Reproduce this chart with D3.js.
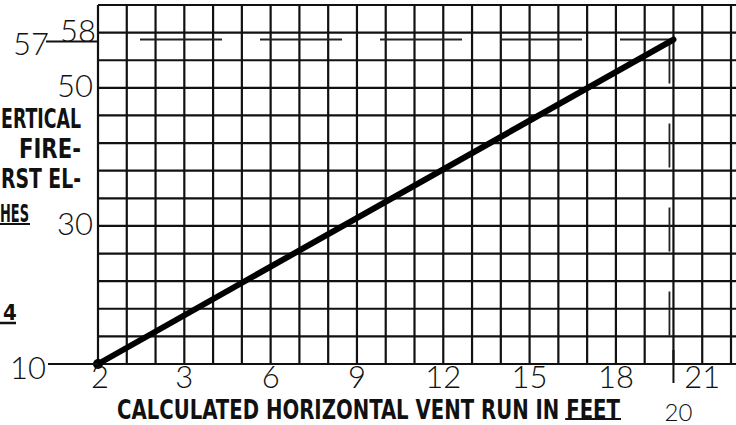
<!DOCTYPE html>
<html><head><meta charset="utf-8">
<script src="https://cdn.jsdelivr.net/npm/d3@7"></script>
<style>html,body{margin:0;padding:0;background:#fff;overflow:hidden}svg{display:block}</style>
</head><body>
<script>
// ---- data ----
const lineX = [2, 20];            // calculated horizontal vent run (ft)
const lineY = [10, 57];           // vertical height (in)
const xTickValues = [2, 3, 6, 9, 12, 15, 18, 21];
const xTickLabels = ["2", "3", "6", "9", "12", "15", "18", "21"];
const xMarkValue = 20, xMarkLabel = "20";
const yTickValues = [10, 30, 50, 58];
const yTickLabels = ["10", "30", "50", "58"];
const yMarkValue = 57, yMarkLabel = "57";
const xTitle = "CALCULATED HORIZONTAL VENT RUN IN ";
const xTitleUnderlined = "FEET";
const sideLines = ["ERTICAL", "FIRE-", "RST EL-"];
const sideUnderlined = ["HES", "4"];

// ---- layout ----
const W = 736, H = 425;
const pL = 98, pR = 731, pT = 5, pB = 364;

const svg = d3.select("body").append("svg").attr("width", W).attr("height", H);

const cell = (pR - pL) / 22;
const x = d3.scaleLinear().domain([2, 3, 22]).range([pL, pL + 3 * cell, pR]);
const y = d3.scaleLinear().domain([10, 62]).range([pB, pT]);
const gx = d3.scaleLinear().domain([0, 22]).range([pL, pR]);

const grid = svg.append("g").attr("stroke", "#111").attr("stroke-width", 2.2);
grid.selectAll("line.v").data(d3.range(0, 23)).join("line").attr("class", "v")
  .attr("x1", d => gx(d)).attr("x2", d => gx(d)).attr("y1", pT).attr("y2", pB);
grid.selectAll("line.h").data(d3.range(10, 63, 4)).join("line").attr("class", "h")
  .attr("x1", pL).attr("x2", W).attr("y1", d => y(d)).attr("y2", d => y(d));

// dashed guides to end point
svg.append("line").attr("x1", 140).attr("x2", x(lineX[1]))
  .attr("y1", y(lineY[1])).attr("y2", y(lineY[1]))
  .attr("stroke", "#222").attr("stroke-width", 1.8).attr("stroke-dasharray", "82,38");
svg.append("line").attr("x1", x(lineX[1]) - 4).attr("x2", x(lineX[1]) - 4)
  .attr("y1", y(lineY[1])).attr("y2", pB)
  .attr("stroke", "#222").attr("stroke-width", 1.8).attr("stroke-dasharray", "44,40");

// main line
const pts = lineX.map((v, i) => [x(v), y(lineY[i])]);
svg.append("path").attr("d", d3.line()(pts)).attr("fill", "none")
  .attr("stroke", "#000").attr("stroke-width", 6).attr("stroke-linecap", "round");
svg.append("circle").attr("cx", pts[0][0]).attr("cy", pts[0][1]).attr("r", 5).attr("fill", "#000");

const numFont = "Lato, 'DejaVu Sans', sans-serif";
const boldFont = "'Liberation Sans Narrow', 'DejaVu Sans Condensed', sans-serif";
const NF = 31;

// x tick labels
svg.selectAll("text.xt").data(xTickValues).join("text").attr("class", "xt")
  .attr("x", d => x(d) + (d === 2 ? 2 : 0)).attr("y", 388)
  .attr("text-anchor", "middle").attr("font-family", numFont).attr("font-weight", 300)
  .attr("font-size", NF).attr("fill", "#111").text((d, i) => xTickLabels[i]);
// 20 mark
svg.append("line").attr("x1", x(xMarkValue)).attr("x2", x(xMarkValue))
  .attr("y1", pB - 14).attr("y2", pB + 19).attr("stroke", "#111").attr("stroke-width", 2);
svg.append("text").attr("x", x(xMarkValue) + 5).attr("y", 421).attr("text-anchor", "middle")
  .attr("font-family", numFont).attr("font-weight", 300).attr("font-size", 24).attr("fill", "#111").text(xMarkLabel);

// y tick labels
yTickValues.forEach((v, i) => {
  if (v === 10) {
    svg.append("line").attr("x1", 48).attr("x2", pL).attr("y1", y(v)).attr("y2", y(v))
      .attr("stroke", "#111").attr("stroke-width", 2);
    svg.append("text").attr("x", 46).attr("y", y(v) + 15).attr("text-anchor", "end")
      .attr("font-family", numFont).attr("font-weight", 300).attr("font-size", NF).attr("fill", "#111").text(yTickLabels[i]);
  } else {
    svg.append("text").attr("x", v === 58 ? 96 : 93).attr("y", y(v) + 9)
      .attr("text-anchor", "end")
      .attr("font-family", numFont).attr("font-weight", 300).attr("font-size", NF).attr("fill", "#111").text(yTickLabels[i]);
  }
});
// 57 mark with leader
svg.append("line").attr("x1", 46).attr("x2", pL).attr("y1", y(yMarkValue) + 2).attr("y2", y(yMarkValue) + 2)
  .attr("stroke", "#111").attr("stroke-width", 2);
svg.append("text").attr("x", 49).attr("y", y(yMarkValue) + 15).attr("text-anchor", "end")
  .attr("font-family", numFont).attr("font-weight", 300).attr("font-size", NF).attr("fill", "#111").text(yMarkLabel);

// x title, single text; underline under last word
const fullTitle = xTitle + xTitleUnderlined;
const title = svg.append("text").attr("x", 117).attr("y", 419).attr("font-family", boldFont).attr("font-weight", 700)
  .attr("font-size", 26).attr("fill", "#111").attr("textLength", 503).attr("lengthAdjust", "spacingAndGlyphs")
  .text(fullTitle);
{
  const node = title.node();
  const i0 = xTitle.length, i1 = fullTitle.length - 1;
  let a = 548, b = 621;
  try { a = node.getStartPositionOfChar(i0).x; b = node.getEndPositionOfChar(i1).x; } catch (e) {}
  svg.append("line").attr("x1", a - 1).attr("x2", b + 1).attr("y1", 419).attr("y2", 419)
    .attr("stroke", "#111").attr("stroke-width", 2);
}

// side text (cropped)
const sideY = [128, 158, 188];
const sideW = [80, 62, 80];
sideLines.forEach((t, i) => {
  svg.append("text").attr("x", 81).attr("y", sideY[i]).attr("text-anchor", "end")
    .attr("font-family", boldFont).attr("font-weight", 700).attr("font-size", 26).attr("fill", "#111")
    .attr("textLength", sideW[i]).attr("lengthAdjust", "spacingAndGlyphs").text(t);
});
svg.append("text").attr("x", 0).attr("y", 222).attr("font-family", boldFont).attr("font-weight", 700)
  .attr("font-size", 24).attr("fill", "#111").attr("textLength", 29).attr("lengthAdjust", "spacingAndGlyphs").text(sideUnderlined[0]);
svg.append("line").attr("x1", 0).attr("x2", 30).attr("y1", 224).attr("y2", 224).attr("stroke", "#111").attr("stroke-width", 2);
svg.append("text").attr("x", 3).attr("y", 320).attr("font-family", boldFont).attr("font-weight", 700)
  .attr("font-size", 22).attr("fill", "#111").text(sideUnderlined[1]);
svg.append("line").attr("x1", 0).attr("x2", 16).attr("y1", 323).attr("y2", 323).attr("stroke", "#111").attr("stroke-width", 2.5);
</script>
</body></html>
